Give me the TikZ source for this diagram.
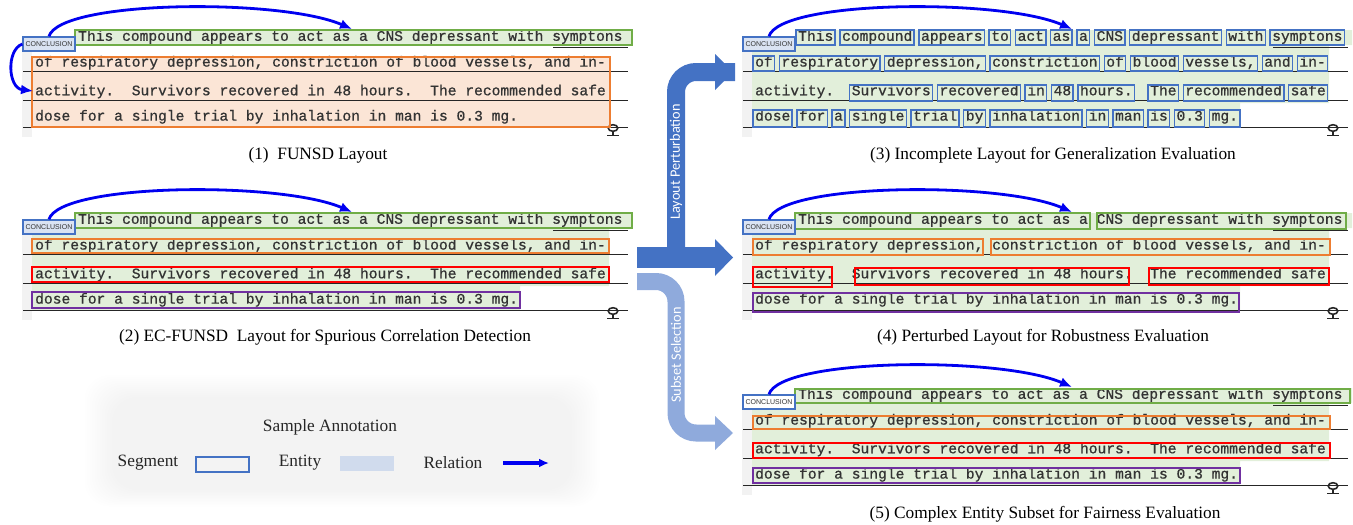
\documentclass[tikz,border=0pt]{standalone}
\usepackage{fontspec}
\setmainfont{Liberation Serif}
\newfontfamily\docfont[FakeBold=0.8]{Liberation Mono}
\newfontfamily\conclfont{Liberation Sans}
\newfontfamily\bandfont{Carlito}
\usetikzlibrary{arrows.meta,calc}
\definecolor{segblue}{HTML}{4472C4}
\definecolor{seggreen}{HTML}{70AD47}
\definecolor{segorange}{HTML}{ED7D31}
\definecolor{segred}{HTML}{FF0000}
\definecolor{segpurple}{HTML}{7030A0}
\definecolor{entgreen}{HTML}{E2EFDA}
\definecolor{entorange}{HTML}{FBE5D6}
\definecolor{conclfill}{HTML}{DAE3F3}
\definecolor{legfill}{HTML}{D0DBED}
\definecolor{relblue}{HTML}{0000F0}
\definecolor{darkband}{HTML}{4472C4}
\definecolor{lightband}{HTML}{8FAADC}
\tikzset{
  doctext/.style={font=\docfont\fontsize{14.63}{16}\selectfont\frenchspacing, text=black!80, inner sep=0pt, anchor=mid west},
  concl/.style={draw=segblue, fill=conclfill, line width=1.3pt, minimum width=52pt, minimum height=14pt, inner sep=0pt, font=\conclfont\fontsize{7}{8}\selectfont, text=black!80},
  seg/.style={line width=1.4pt},
  formline/.style={line width=1.3pt, black!85},
  rel/.style={draw=relblue, line width=2.8pt, -{Latex[length=12pt,width=10pt]}},
  capt/.style={font=\fontsize{17.3}{20}\selectfont, inner sep=0pt},
  legtext/.style={font=\fontsize{17.3}{20}\selectfont, text=black!85, inner sep=0pt},
  bandlabel/.style={font=\bandfont\fontsize{14.3}{16}\selectfont, text=white, rotate=90, inner sep=0pt}
}
\newcommand\EntFill{\fill[entgreen] (75,30) -- (632,30) -- (632,45) -- (609,45) -- (609,103) -- (520,103) -- (520,127) -- (32,127) -- (32,51) -- (75,51) -- cycle;}
\newcommand\PageStrip{\fill[black!5] (22,51) rectangle (32,137);}
\newcommand\DocLines{%
  \draw[formline] (553,47.5) -- (628,47.5);
  \draw[formline] (23,71.5) -- (628,71.5);
  \draw[formline] (23,100.5) -- (628,100.5);
  \draw[formline] (23,127.5) -- (628,127.5);
  \node[doctext] (l1) at (78,38.5) {This compound appears to act as a CNS depressant with symptons};
  \node[doctext] (l2) at (35,64.3) {of respiratory depression, constriction of blood vessels, and in-};
  \node[doctext] (l3) at (35,93) {activity.~~Survivors recovered in 48 hours.~~The recommended safe};
  \node[doctext] (l4) at (35,118.3) {dose for a single trial by inhalation in man is 0.3 mg.};
  \draw[line width=1.6pt, black!85] (613,128) ellipse [x radius=4.8, y radius=3.3];
  \draw[line width=1.6pt, black!85] (607,135.5) -- (619,135.5) (613,131) -- (613,135.5);
}
\newcommand\Relation{%
  \coordinate (tgt) at (352,29);
  \draw[rel] (concl.north) .. controls (60,0) and (280,-2) .. (tgt);
}
\begin{document}
\begin{tikzpicture}[x=1pt,y=-1pt]
\useasboundingbox (0,0) rectangle (1353,525);

% ---------- Panel 1
\begin{scope}[name prefix=p1-]
  \PageStrip
  \fill[entorange] (32,57) rectangle (610,127);
  \fill[entgreen] (75,30) rectangle (632,45);
  \DocLines
  \draw[seg,segorange] (32,57) rectangle (610,127);
  \draw[seg,seggreen] (75,30) rectangle (632,45);
  \node[concl] (concl) at (49,44) {CONCLUSION};
  \Relation
  \coordinate (tgt2) at (33,91);
  \draw[rel] (concl.west) .. controls (6,50) and (8,88) .. (tgt2);
  \node[capt] (cap) at (318,155.5) {(1)~~FUNSD Layout};
\end{scope}

% ---------- Panel 2
\begin{scope}[shift={(0,183)}, name prefix=p2-]
  \PageStrip
  \EntFill
  \DocLines
  \draw[seg,seggreen] (75,30) rectangle (632,45);
  \draw[seg,segorange] (32,56) rectangle (609,70);
  \draw[seg,segred] (32,84) rectangle (609,99);
  \draw[seg,segpurple] (32,109) rectangle (520,125);
  \node[concl] (concl) at (49,44) {CONCLUSION};
  \Relation
  \node[capt] (cap) at (325,154.5) {(2) EC-FUNSD~~Layout for Spurious Correlation Detection};
\end{scope}

% ---------- Panel 3
\begin{scope}[shift={(720,0)}, name prefix=p3-]
  \PageStrip
  \EntFill
  \DocLines
  \foreach \s/\e in {0/4,5/13,14/21,22/24,25/28,29/31,32/33,34/37,38/48,49/53,54/62}
    \draw[seg,segblue] ({78+\s*8.78-2},30) rectangle ({78+\e*8.78+2},45);
  \foreach \s/\e in {0/2,3/14,15/26,27/39,40/42,43/48,49/57,58/61,62/65}
    \draw[seg,segblue] ({35+\s*8.78-2},56) rectangle ({35+\e*8.78+2},71);
  \foreach \s/\e in {11/20,21/30,31/33,34/36,37/43,45/48,49/60,61/65}
    \draw[seg,segblue] ({35+\s*8.78-2},85) rectangle ({35+\e*8.78+2},101);
  \foreach \s/\e in {0/4,5/8,9/10,11/17,18/23,24/26,27/37,38/40,41/44,45/47,48/51,52/55}
    \draw[seg,segblue] ({35+\s*8.78-2},110) rectangle ({35+\e*8.78+2},127);
  \node[concl] (concl) at (49,44) {CONCLUSION};
  \Relation
  \node[capt] (cap) at (333,155.5) {(3) Incomplete Layout for Generalization Evaluation};
\end{scope}

% ---------- Panel 4
\begin{scope}[shift={(720,183)}, name prefix=p4-]
  \PageStrip
  \EntFill
  \DocLines
  \draw[seg,seggreen] (75,30) rectangle (370,46);
  \draw[seg,seggreen] (377,30) rectangle (626,46);
  \draw[seg,segorange] (33,56) rectangle (263,72);
  \draw[seg,segorange] (271,56) rectangle (610,72);
  \draw[seg,segred] (33,84) rectangle (112,104);
  \draw[seg,segred] (135,85) rectangle (409,102);
  \draw[seg,segred] (429,85) rectangle (609,102);
  \draw[seg,segpurple] (33,110) rectangle (519,129);
  \node[concl] (concl) at (49,44) {CONCLUSION};
  \Relation
  \node[capt] (cap) at (323,154) {(4) Perturbed Layout for Robustness Evaluation};
\end{scope}

% ---------- Panel 5
\begin{scope}[shift={(720,358)}, name prefix=p5-]
  \PageStrip
  \EntFill
  \DocLines
  \draw[seg,seggreen] (75,31) rectangle (630,45);
  \draw[seg,segorange] (33,58) rectangle (610,71);
  \draw[seg,segred] (33,85) rectangle (610,100);
  \draw[seg,segpurple] (33,110) rectangle (520,125);
  \node[concl, fill=white] (concl) at (49,44) {CONCLUSION};
  \Relation
  \node[capt] (cap) at (325,156) {(5) Complex Entity Subset for Fairness Evaluation};
\end{scope}

% ---------- Fat arrows
\coordinate (dk-src) at (637,257.5);
\coordinate (dk-mid) at (715,257.5);
\coordinate (dk-top) at (715,72);
\fill[darkband] ($(dk-src)+(0,-10.5)$) rectangle ($(dk-mid)+(1,10.5)$);
\fill[darkband] (715,239) -- (733,257.5) -- (715,276) -- cycle;
\draw[darkband, line width=18pt, rounded corners=20pt] (676,252) -- (676,72) -- (dk-top) -- ++(1,0);
\fill[darkband] (715,54) -- (733,72) -- (715,90) -- cycle;
\node[bandlabel] (lp) at (676,162) {Layout Perturbation};

\coordinate (lt-src) at (637,281.5);
\coordinate (lt-end) at (716,433);
\draw[lightband, line width=17pt, rounded corners=20pt] (lt-src) -- (676,281.5) -- (676,433) -- (lt-end);
\fill[lightband] (715,416) -- (733,433) -- (715,450) -- cycle;
\node[bandlabel] (ss) at (676,355) {Subset Selection};

% ---------- Legend
\foreach \i in {0,...,11}
  \fill[black, opacity=0.004, rounded corners=25pt] ({112-\i*2.5},{397-\i*2}) rectangle ({572+\i*2.5},{490+\i*1.5});
\node[legtext] (legtitle) at (330,427) {Sample Annotation};
\node[legtext] (legseg) at (148,463) {Segment};
\node[draw=segblue, line width=1.3pt, minimum width=53pt, minimum height=15pt, inner sep=0pt] (legsegbox) at (222.5,464.5) {};
\node[legtext] (legent) at (300,463) {Entity};
\node[fill=legfill, minimum width=54pt, minimum height=15pt, inner sep=0pt] (legentbox) at (367,463.5) {};
\node[legtext] (legrel) at (453,463) {Relation};
\coordinate (relA) at (503,463);
\coordinate (relB) at (549,463);
\draw[draw=relblue, line width=3.2pt, -{Latex[length=10pt,width=9pt]}] (relA) -- (relB);
\end{tikzpicture}
\end{document}
